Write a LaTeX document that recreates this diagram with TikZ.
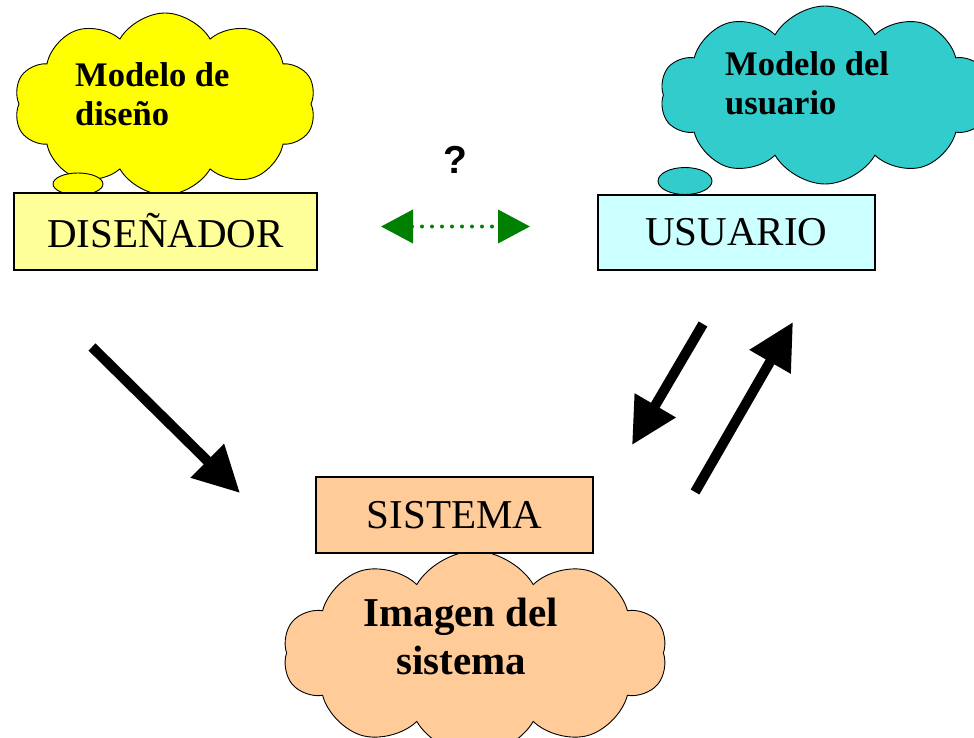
\documentclass[tikz,border=0pt]{standalone}
\usepackage{fontspec}
\setmainfont{Liberation Serif}
\newfontfamily\qfont{Liberation Sans}
\usetikzlibrary{shapes.symbols,shapes.geometric,arrows.meta}
\definecolor{boxyellow}{HTML}{FFFF99}
\definecolor{cloudyellow}{HTML}{FFFF00}
\definecolor{boxcyan}{HTML}{CCFFFF}
\definecolor{cloudcyan}{HTML}{33CCCC}
\definecolor{orangeb}{HTML}{FFCC99}
\definecolor{darkgreen}{HTML}{008000}
\tikzset{
  cloudy/.style={cloud, cloud puffs=10, cloud puff arc=120, cloud ignores aspect, draw=black, line width=0.9pt, inner sep=0pt},
  bubble/.style={ellipse, draw=black, line width=0.9pt, inner sep=0pt},
  boxnode/.style={rectangle, draw=black, line width=2pt, inner sep=0pt, font=\fontsize{41}{48}\selectfont},
  cloudtext/.style={inner sep=0pt, font=\fontsize{34.5}{39.5}\selectfont\bfseries, align=left},
  bigarrow/.style={line width=10pt, -{Triangle[length=46pt,width=45pt]}},
}
\begin{document}
\begin{tikzpicture}[x=1pt,y=-1pt]
\clip (0,0) rectangle (974,738);
\fill[white] (0,0) rectangle (974,738);
% clouds
\node[cloudy, fill=cloudyellow, minimum width=302pt, minimum height=182pt] (cy) at (165,104) {};
\node[bubble, fill=cloudyellow, minimum width=50pt, minimum height=22pt] (by) at (78,184) {};
\node[cloudy, fill=cloudcyan, minimum width=330pt, minimum height=178pt] (cc) at (825,95) {};
\node[bubble, fill=cloudcyan, minimum width=54pt, minimum height=27pt] (bc) at (685,181) {};
\node[cloudy, fill=orangeb, minimum width=384pt, minimum height=204pt] (co) at (475,653) {};
% cloud texts
\node[cloudtext, anchor=north west] (t1) at (75,62) {Modelo de\\diseño};
\node[cloudtext, anchor=north west] (t2) at (725,51) {Modelo del\\usuario};
\node[inner sep=0pt, font=\fontsize{41}{48}\selectfont\bfseries, align=center] (t3) at (461,636) {Imagen del\\sistema};
% boxes
\node[boxnode, fill=boxyellow, minimum width=303pt, minimum height=77pt] (dis) at (165.5,231.5) {\raisebox{3pt}{DISEÑADOR}};
\node[boxnode, fill=boxcyan, minimum width=277pt, minimum height=75pt] (usu) at (736.5,232.5) {USUARIO};
\node[boxnode, fill=orangeb, minimum width=277pt, minimum height=76pt] (sis) at (454.5,515) {SISTEMA};
% question
\node[inner sep=0pt, font=\qfont\fontsize{39}{40}\selectfont\bfseries] (q) at (455,160) {?};
% green arrow
\coordinate (gl) at (381,226.5);
\coordinate (gr) at (530,226.5);
\draw[darkgreen, line width=4pt, dash pattern=on 0pt off 10pt, line cap=round,
      {Triangle[length=32pt,width=33pt]}-{Triangle[length=32pt,width=33pt]}] (gl) -- (gr);
% black arrows
\coordinate (a1s) at (92,347);
\coordinate (a1e) at (240,493);
\coordinate (a2s) at (703,324);
\coordinate (a2e) at (632,445);
\coordinate (a3s) at (695,492);
\coordinate (a3e) at (793,322);
\draw[bigarrow] (a1s) -- (a1e);
\draw[bigarrow] (a2s) -- (a2e);
\draw[bigarrow] (a3s) -- (a3e);
\end{tikzpicture}
\end{document}
